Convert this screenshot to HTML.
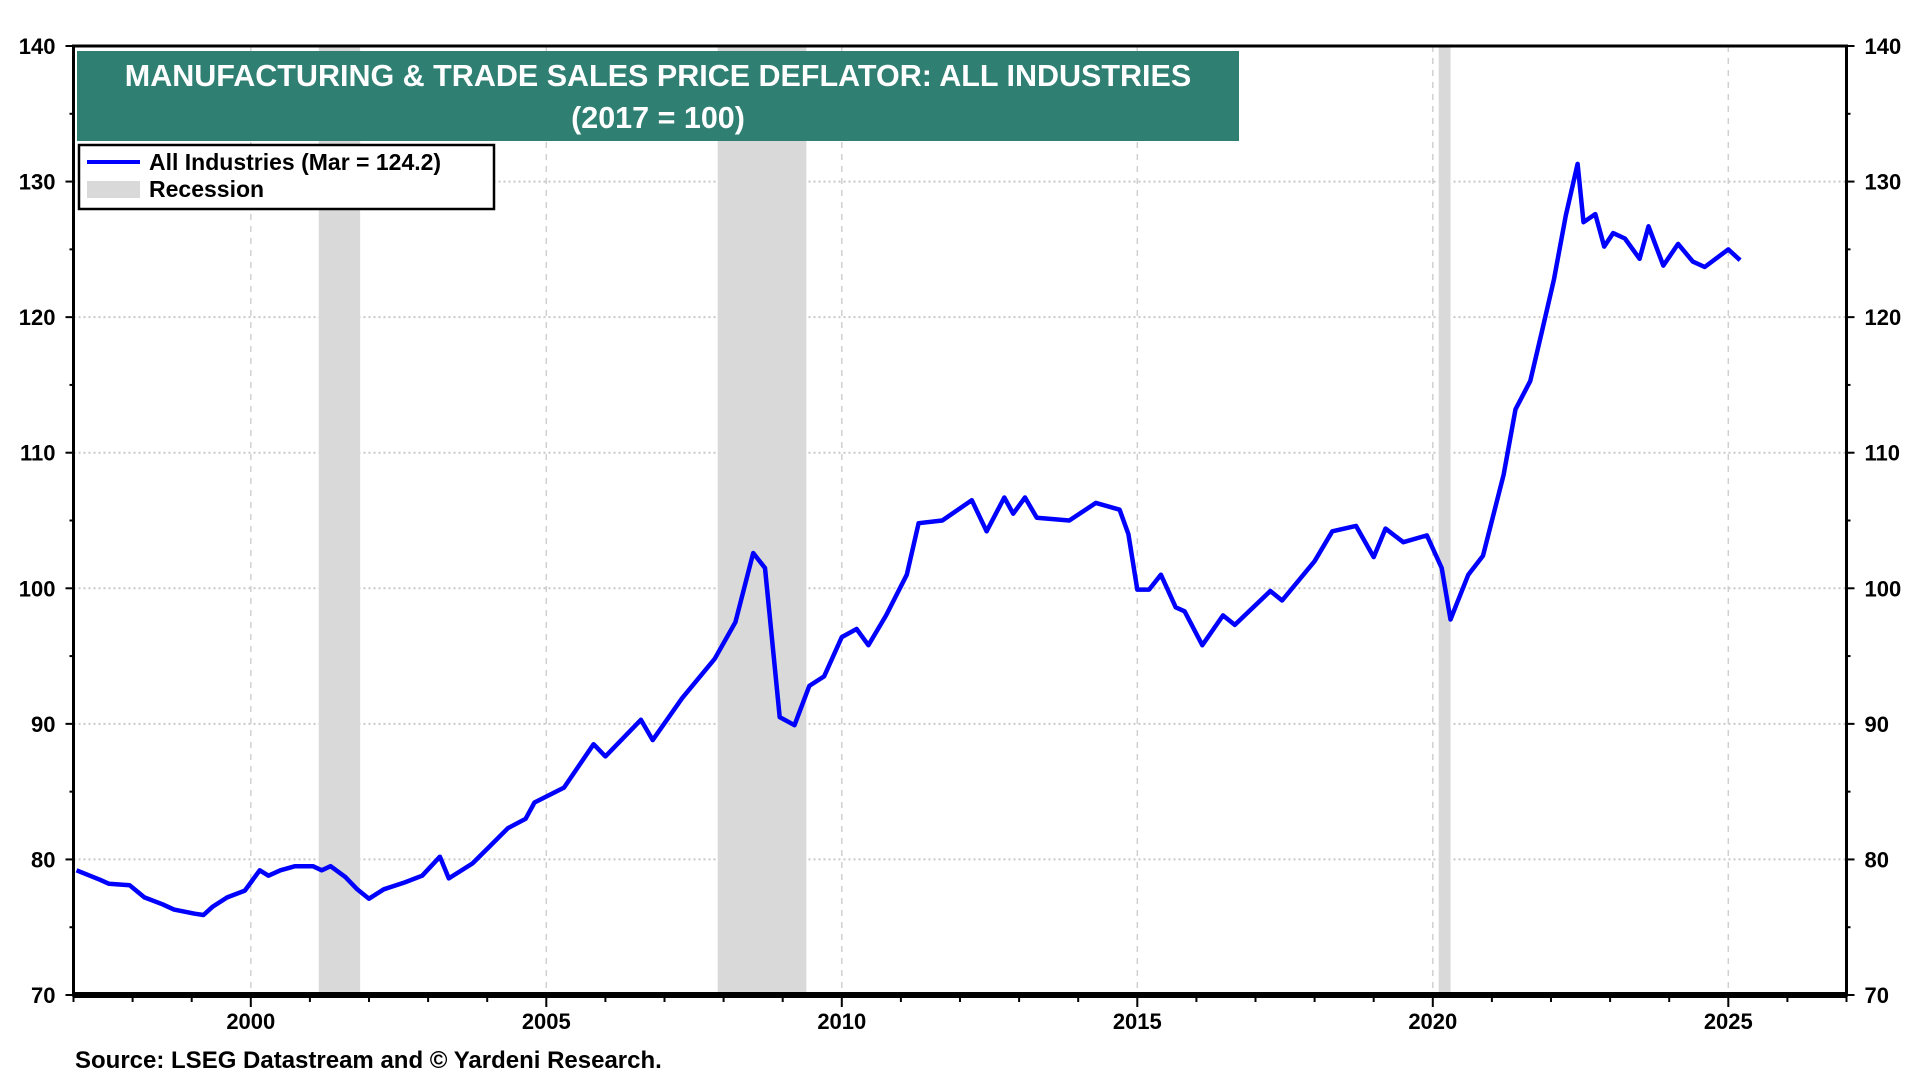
<!DOCTYPE html>
<html><head><meta charset="utf-8"><style>
html,body{margin:0;padding:0;background:#fff;}
svg{display:block;font-family:"Liberation Sans",Arial,sans-serif;}
</style></head><body>
<svg id="chart" width="1920" height="1080" viewBox="0 0 1920 1080" xmlns="http://www.w3.org/2000/svg">
<g id="grid"></g>
<g id="rec"></g>
<g id="series"></g>
<g id="axes"></g>
<g>
<rect x="77" y="51" width="1162" height="90" fill="#2f7f72"/>
<text x="658" y="86" text-anchor="middle" fill="#fff" font-weight="bold" font-size="30.5">MANUFACTURING &amp; TRADE SALES PRICE DEFLATOR: ALL INDUSTRIES</text>
<text x="658" y="128" text-anchor="middle" fill="#fff" font-weight="bold" font-size="30.5">(2017 = 100)</text>
</g>
<g>
<rect x="79" y="145" width="415" height="64" fill="#fff" stroke="#000" stroke-width="2.5"/>
<line x1="87" y1="162" x2="140" y2="162" stroke="#0000ff" stroke-width="4"/>
<text x="149" y="170" font-size="23" font-weight="bold">All Industries (Mar = 124.2)</text>
<rect x="87" y="181" width="53" height="17" fill="#d9d9d9"/>
<text x="149" y="197" font-size="23" font-weight="bold">Recession</text>
</g>
<text x="75" y="1068" font-size="24" font-weight="bold">Source: LSEG Datastream and © Yardeni Research.</text>
</svg>
<script>
const years = [1997.05,1997.45,1997.6,1997.95,1998.2,1998.5,1998.7,1999.05,1999.2,1999.35,1999.6,1999.9,2000.15,2000.3,2000.5,2000.75,2001.05,2001.2,2001.35,2001.6,2001.8,2002.0,2002.25,2002.6,2002.9,2003.2,2003.35,2003.75,2004.05,2004.35,2004.65,2004.8,2005.3,2005.8,2006.0,2006.6,2006.8,2007.3,2007.85,2008.2,2008.5,2008.7,2008.95,2009.2,2009.45,2009.7,2010.0,2010.25,2010.45,2010.75,2011.1,2011.3,2011.7,2012.2,2012.45,2012.75,2012.9,2013.1,2013.3,2013.85,2014.3,2014.7,2014.85,2015.0,2015.2,2015.4,2015.65,2015.8,2016.1,2016.45,2016.65,2017.25,2017.45,2018.0,2018.3,2018.7,2019.0,2019.2,2019.5,2019.9,2020.15,2020.3,2020.6,2020.85,2021.2,2021.4,2021.65,2021.85,2022.05,2022.25,2022.45,2022.55,2022.75,2022.9,2023.05,2023.25,2023.5,2023.65,2023.9,2024.15,2024.4,2024.6,2025.0,2025.2];
const values = [79.2,78.5,78.2,78.1,77.2,76.7,76.3,76.0,75.9,76.5,77.2,77.7,79.2,78.8,79.2,79.5,79.5,79.2,79.5,78.7,77.8,77.1,77.8,78.3,78.8,80.2,78.6,79.7,81.0,82.3,83.0,84.2,85.3,88.5,87.6,90.3,88.8,91.9,94.8,97.5,102.6,101.5,90.5,89.9,92.8,93.5,96.4,97.0,95.8,98.0,101.0,104.8,105.0,106.5,104.2,106.7,105.5,106.7,105.2,105.0,106.3,105.8,104.0,99.9,99.9,101.0,98.6,98.3,95.8,98.0,97.3,99.8,99.1,102.0,104.2,104.6,102.3,104.4,103.4,103.9,101.5,97.7,101.0,102.4,108.4,113.2,115.3,119.0,122.8,127.5,131.3,127.0,127.6,125.2,126.2,125.8,124.3,126.7,123.8,125.4,124.1,123.7,125.0,124.2];
const recStart = [2001.15,2007.9,2020.1];
const recEnd = [2001.85,2009.4,2020.3];
const yTicks = [70,80,90,100,110,120,130,140];
const xTicks = [2000,2005,2010,2015,2020,2025];

const X0=73.5,X1=1846.5,Y0=46,Y1=995;
const xs = v => X0 + (v-1997)/(2027-1997)*(X1-X0);
const ys = v => Y1 - (v-70)/(140-70)*(Y1-Y0);
const NS="http://www.w3.org/2000/svg";
function mk(tag, parent, attrs){const e=document.createElementNS(NS,tag);for(const k in attrs)e.setAttribute(k,attrs[k]);parent.appendChild(e);return e;}
const grid=document.getElementById('grid'), rec=document.getElementById('rec'), ser=document.getElementById('series'), ax=document.getElementById('axes');

yTicks.forEach(t=>{
  if(t>70&&t<140){const l=mk('line',grid,{x1:X0,x2:X1,y1:ys(t),y2:ys(t),stroke:'#c8c8c8','stroke-width':2,'stroke-dasharray':'2,3'});
  
  }
  const a=mk('text',ax,{x:X0-18,y:ys(t)+8,'text-anchor':'end','font-size':22,'font-weight':'bold'});a.textContent=t;
  
  
  const b=mk('text',ax,{x:X1+18,y:ys(t)+8,'text-anchor':'start','font-size':22,'font-weight':'bold'});b.textContent=t;
  
  
  mk('line',ax,{x1:X0-8,x2:X0,y1:ys(t),y2:ys(t),stroke:'#000','stroke-width':2});
  mk('line',ax,{x1:X1,x2:X1+8,y1:ys(t),y2:ys(t),stroke:'#000','stroke-width':2});
  if(t<140){mk('line',ax,{x1:X0-4,x2:X0,y1:ys(t+5),y2:ys(t+5),stroke:'#000','stroke-width':2});
  mk('line',ax,{x1:X1,x2:X1+4,y1:ys(t+5),y2:ys(t+5),stroke:'#000','stroke-width':2});}
});
xTicks.forEach(t=>{
  const l=mk('line',grid,{x1:xs(t),x2:xs(t),y1:Y0,y2:Y1,stroke:'#d0d0d0','stroke-width':1.5,'stroke-dasharray':'6,6'});
  
  
  const a=mk('text',ax,{x:xs(t),y:1029,'text-anchor':'middle','font-size':22,'font-weight':'bold'});a.textContent=t;
  
  
});
for(let y=1997;y<=2027;y++){mk('line',ax,{x1:xs(y),x2:xs(y),y1:Y1,y2:Y1+(y%5===0?12:7),stroke:'#000','stroke-width':2});}
recStart.forEach((s,i)=>{
  const r=mk('rect',rec,{x:xs(s),y:Y0,width:xs(recEnd[i])-xs(s),height:Y1-Y0,fill:'#d9d9d9'});
  
  
});
const p=mk('polyline',ser,{points:years.map((y,i)=>xs(y).toFixed(1)+','+ys(values[i]).toFixed(1)).join(' '),fill:'none',stroke:'#0000ff','stroke-width':4.5,'stroke-linejoin':'round'});


const f=mk('rect',ax,{x:X0,y:Y0,width:X1-X0,height:Y1-Y0,fill:'none',stroke:'#000','stroke-width':3});


mk('line',ax,{x1:X0,x2:X1,y1:Y1,y2:Y1,stroke:'#000','stroke-width':6});
</script>
</body></html>
